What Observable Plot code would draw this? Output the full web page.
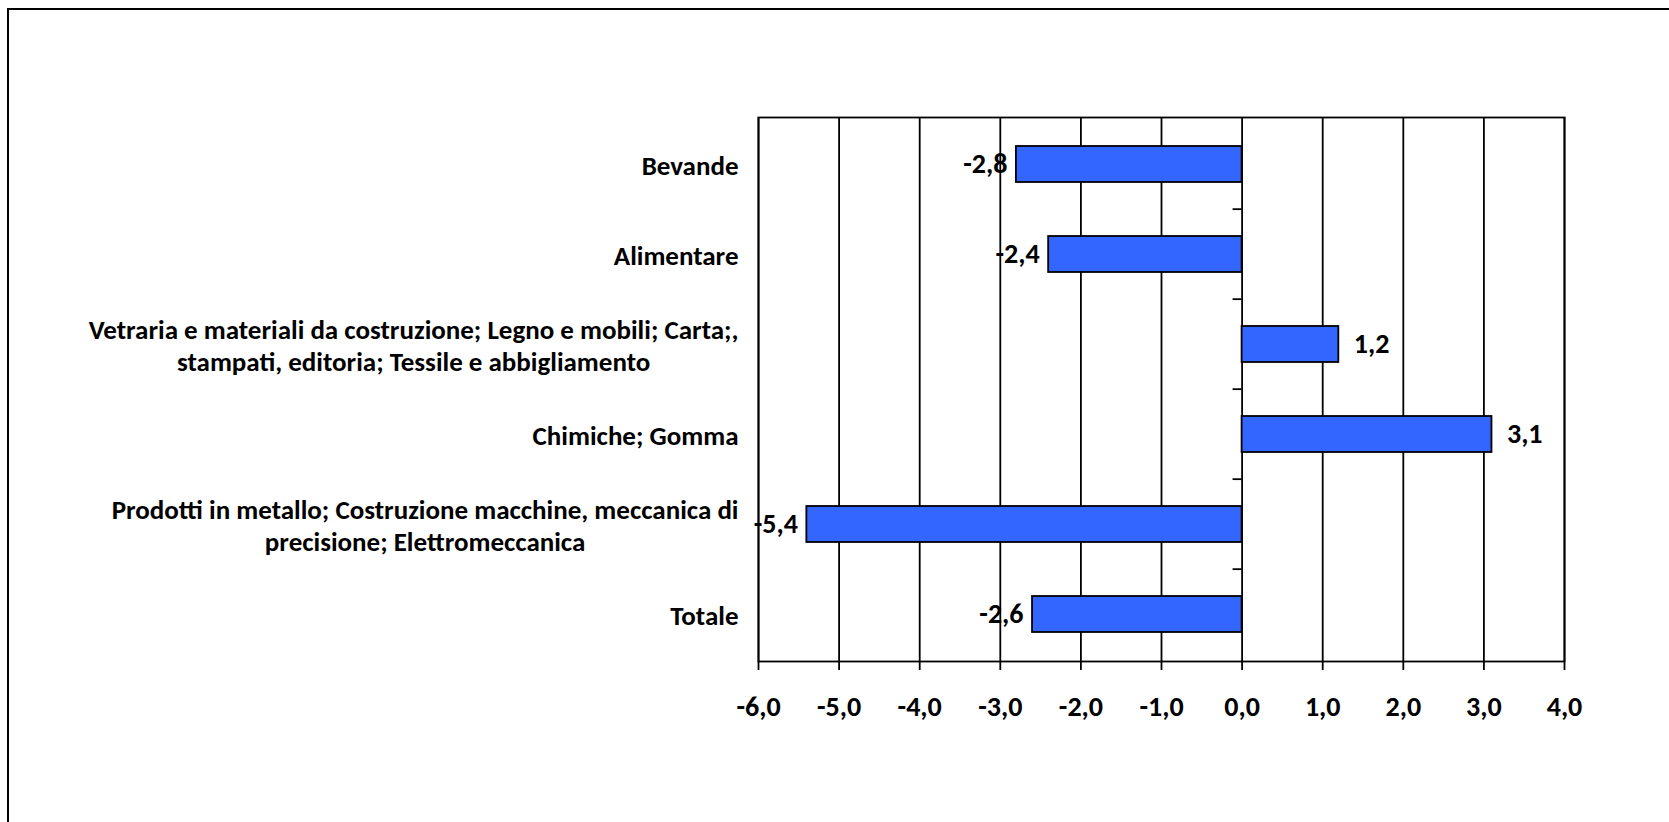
<!DOCTYPE html>
<html><head><meta charset="utf-8">
<script src="https://cdn.jsdelivr.net/npm/d3@7"></script>
<script src="https://cdn.jsdelivr.net/npm/@observablehq/plot@0.6"></script>
<style>
body{margin:0;background:#fff;}
#wrap{position:relative;width:1669px;height:822px;overflow:hidden;background:#fff;}
#border{position:absolute;left:7px;top:8px;width:1700px;height:900px;border-left:2.5px solid #000;border-top:2.5px solid #000;box-sizing:border-box;}
#chart{position:absolute;left:0;top:0;}
</style></head><body>
<div id="wrap"><div id="border"></div><div id="chart"></div></div>
<script>
const categories = [
  "Bevande",
  "Alimentare",
  "Vetraria e materiali da costruzione; Legno e mobili; Carta;,\nstampati, editoria; Tessile e abbigliamento",
  "Chimiche; Gomma",
  "Prodotti in metallo; Costruzione macchine, meccanica di\nprecisione; Elettromeccanica",
  "Totale"
];
const values = [-2.8, -2.4, 1.2, 3.1, -5.4, -2.6];
const xTicks = [-6, -5, -4, -3, -2, -1, 0, 1, 2, 3, 4];

const data = categories.map((c, i) => ({category: c, value: values[i]}));
const fmt = v => v.toFixed(1).replace(".", ",");

const W = 1669, H = 822;
const mL = 758, mR = W - 1564, mT = 117, mB = H - 661;
const step = (H - mT - mB) / categories.length;
const FONT = "Carlito, Lato, sans-serif";

const plot = Plot.plot({
  width: W, height: H,
  marginLeft: mL, marginRight: mR, marginTop: mT, marginBottom: mB,
  style: {fontFamily: FONT, fontWeight: "bold", color: "#000", background: "transparent", overflow: "visible"},
  x: {domain: [-6, 4], label: null},
  y: {domain: categories, paddingInner: 0.6, paddingOuter: 0.3, label: null},
  marks: [
    Plot.ruleX(xTicks, {stroke: "#000", strokeWidth: 1.8}),
    Plot.ruleY(categories.slice(1), {y: d => d, x1: -0.112, x2: 0, dy: -step / 2, stroke: "#000", strokeWidth: 1.8}),
    Plot.barX(data, {x: "value", y: "category", fill: "#3366FF", stroke: "#000", strokeWidth: 1.8}),
    Plot.frame({stroke: "#000", strokeWidth: 1.8}),
    Plot.ruleY([0], {frameAnchor: "bottom", stroke: "#000", strokeWidth: 2.2}),
    Plot.axisX({ticks: xTicks, tickFormat: fmt, tickSize: 9, tickPadding: 26, fontSize: 28, fontWeight: "bold", stroke: "#000", strokeWidth: 1.8, strokeOpacity: 1}),
    Plot.axisY({tickSize: 0, tickPadding: 20, fontSize: 27, fontWeight: "bold", lineHeight: 1.2}),
    Plot.text(data.filter(d => d.value < 0), {x: "value", y: "category", text: d => fmt(d.value), textAnchor: "end", dx: -9, fontSize: 28, fontWeight: "bold", fill: "#000"}),
    Plot.text(data.filter(d => d.value >= 0), {x: "value", y: "category", text: d => fmt(d.value), textAnchor: "start", dx: 15, fontSize: 28, fontWeight: "bold", fill: "#000"})
  ]
});
document.getElementById("chart").appendChild(plot);

// centre the lines of wrapped category labels, keeping the block right-aligned
plot.querySelectorAll('g[aria-label="y-axis tick label"] text').forEach(t => {
  const spans = t.querySelectorAll("tspan");
  if (spans.length < 2) return;
  let maxW = 0;
  spans.forEach(s => { maxW = Math.max(maxW, s.getComputedTextLength()); });
  t.setAttribute("text-anchor", "middle");
  spans.forEach(s => s.setAttribute("x", -maxW / 2));
});
</script>
</body></html>
